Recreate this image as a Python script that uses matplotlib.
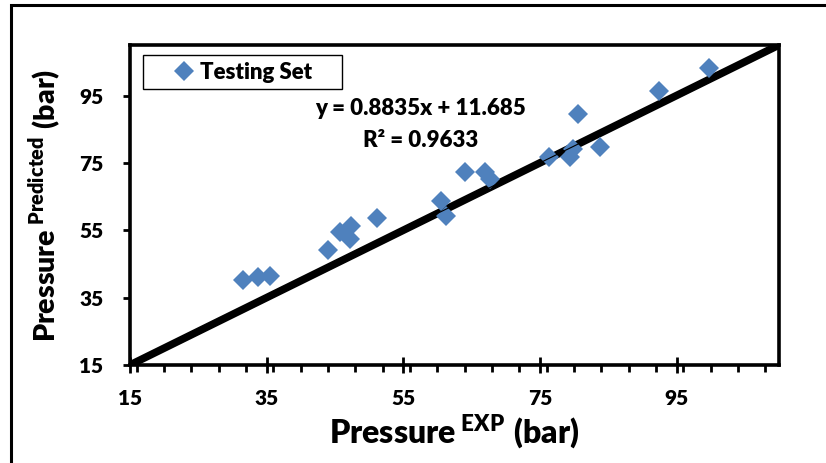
import numpy as np
import matplotlib
matplotlib.use('Agg')
import matplotlib.pyplot as plt
from matplotlib.patches import Rectangle
from matplotlib.ticker import MultipleLocator

# data
p_exp = [31.5, 33.7, 35.5, 44.0, 45.7, 47.4, 47.2, 51.2, 60.5, 61.3,
         64.0, 66.9, 67.7, 76.3, 79.4, 79.8, 80.6, 83.8, 92.5, 99.8]
p_pred = [40.1, 41.0, 41.3, 49.0, 54.4, 56.2, 52.3, 58.6, 63.7, 59.2,
          72.3, 72.3, 70.2, 76.8, 76.8, 79.2, 89.6, 79.8, 96.2, 103.1]
ticks = [15, 35, 55, 75, 95]
lims = [15, 110]
eq_text = "y = 0.8835x + 11.685"
r2_text = "R² = 0.9633"

W = 'heavy'
plt.rcParams['font.family'] = ['Lato', 'DejaVu Sans']
plt.rcParams['font.weight'] = W
plt.rcParams['mathtext.fontset'] = 'custom'
plt.rcParams['mathtext.rm'] = 'Lato'
plt.rcParams['mathtext.bf'] = 'Lato:heavy'

fig = plt.figure(figsize=(8.26, 4.63), dpi=100)
ax = fig.add_axes([130/826, 1-365/463, 649/826, 320/463])

# outer chart border
fig.patches.append(Rectangle((11/826, -0.1), 1.0, 1-5/463+0.1, transform=fig.transFigure,
                             fill=False, edgecolor='black', linewidth=2.2))

# line y = x
ax.plot(lims, lims, color='black', linewidth=5.5, zorder=2, solid_capstyle='butt')
ax.plot(p_exp, p_pred, linestyle='none', marker='D', markersize=10.5,
        color='#4F81BD', markeredgewidth=0, label='Testing Set', zorder=3)
ax.plot(lims, lims, color='black', linewidth=0.8, zorder=4)

ax.set_xlim(lims)
ax.set_ylim(lims)
ax.set_xticks(ticks)
ax.set_yticks(ticks)
ax.xaxis.set_minor_locator(MultipleLocator(4))
ax.tick_params(axis='x', which='major', direction='inout', length=11, width=2, pad=12, labelsize=15)
ax.tick_params(axis='x', which='minor', direction='out', length=5, width=2)
ax.tick_params(axis='y', which='major', direction='out', length=5, width=2, pad=14, labelsize=15)
for lab in ax.get_xticklabels() + ax.get_yticklabels():
    lab.set_fontweight(W)
for sp in ax.spines.values():
    sp.set_linewidth(2.6)

ax.set_xlabel(r'$\mathbf{Pressure}\,^{\mathbf{EXP}}\;\mathbf{(bar)}$', fontsize=23, labelpad=3)
ax.set_ylabel(r'$\mathbf{Pressure}\,^{\mathbf{Predicted}}\;\mathbf{(bar)}$', fontsize=20.5, labelpad=11)

ax.text(57.5, 91.1, eq_text, ha='center', va='center', fontsize=16, fontweight=W)
ax.text(57.5, 81.6, r2_text, ha='center', va='center', fontsize=16, fontweight=W)

leg = ax.legend(loc='upper left', bbox_to_anchor=(13/649, 0.5, 199/649, 1-10/320-0.5),
                mode='expand', borderaxespad=0, fancybox=False, framealpha=1,
                edgecolor='black', handlelength=3.1, handletextpad=-0.85,
                borderpad=0.3, prop={'weight': W, 'size': 16})
leg.get_frame().set_linewidth(1.0)

fig.savefig('out.png', dpi=100)
